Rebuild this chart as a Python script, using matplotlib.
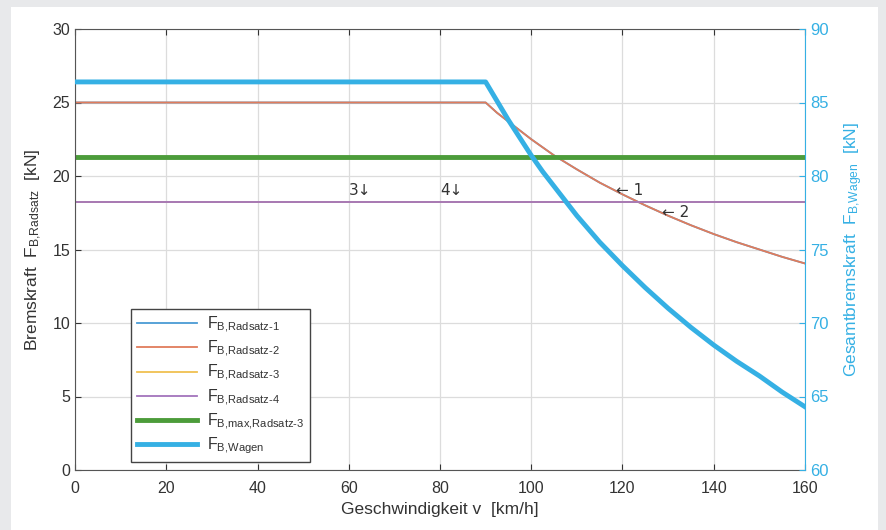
import matplotlib
matplotlib.use('Agg')
import matplotlib.pyplot as plt
from matplotlib.patches import Rectangle

plt.rcParams['font.family'] = ['Liberation Sans', 'DejaVu Sans']
plt.rcParams['mathtext.fontset'] = 'custom'
plt.rcParams['mathtext.rm'] = 'Liberation Sans'
plt.rcParams['mathtext.it'] = 'Liberation Sans'

# speeds [km/h] and braking forces [kN]
v = [0, 90, 92.5, 95, 97.5, 100, 102.5, 105, 110, 115, 120, 125, 130, 135, 140, 145, 150, 155, 160]
f_radsatz_1 = [25, 25, 24.3, 23.7, 23.1, 22.5, 21.95, 21.4, 20.45, 19.55, 18.75, 18.0, 17.3, 16.65,
               16.05, 15.5, 15.0, 14.5, 14.05]
f_radsatz_2 = [25, 25, 24.3, 23.7, 23.1, 22.5, 21.95, 21.4, 20.45, 19.55, 18.75, 18.0, 17.3, 16.65,
               16.05, 15.5, 15.0, 14.5, 14.05]
v_const = [0, 160]
f_radsatz_3 = [18.2, 18.2]
f_radsatz_4 = [18.2, 18.2]
f_max_radsatz_3 = [21.3, 21.3]
f_wagen = [86.4, 86.4, 85.1, 83.8, 82.6, 81.4, 80.3, 79.3, 77.3, 75.5, 73.9, 72.4, 71.0, 69.7,
           68.5, 67.4, 66.4, 65.3, 64.3]

dark = '#333333'
cyan = '#35b0e4'

fig = plt.figure(figsize=(8.86, 5.30), dpi=100)
fig.patch.set_facecolor('#e8e9eb')
fig.patches.append(Rectangle((11 / 886, 0), (878 - 11) / 886, 1 - 7 / 530,
                             transform=fig.transFigure, facecolor='white',
                             edgecolor='none', zorder=-5))

ax = fig.add_axes([75 / 886, 60 / 530, 730 / 886, 441 / 530])
ax.set_facecolor('none')
l1, = ax.plot(v, f_radsatz_1, color='#4a9bd4', lw=1.3, label=r'F$_{\mathrm{B{,}Radsatz\text{-}1}}$')
l2, = ax.plot(v, f_radsatz_2, color='#e07c5c', lw=1.3, label=r'F$_{\mathrm{B{,}Radsatz\text{-}2}}$')
l3, = ax.plot(v_const, f_radsatz_3, color='#f0c050', lw=1.3, label=r'F$_{\mathrm{B{,}Radsatz\text{-}3}}$')
l4, = ax.plot(v_const, f_radsatz_4, color='#a274bc', lw=1.3, label=r'F$_{\mathrm{B{,}Radsatz\text{-}4}}$')
l5, = ax.plot(v_const, f_max_radsatz_3, color='#4c9c3a', lw=3.5,
              label=r'F$_{\mathrm{B{,}max{,}Radsatz\text{-}3}}$')

ax.set_xlim(0, 160)
ax.set_ylim(0, 30)
ax.set_xticks(range(0, 161, 20))
ax.set_yticks(range(0, 31, 5))
ax.grid(True, color='#dcdcdc', lw=0.9)
ax.set_axisbelow(True)
ax.tick_params(direction='in', top=True, colors=dark, labelsize=11.5, length=4)
ax.tick_params(axis='x', pad=8)
for s in ['left', 'top', 'bottom']:
    ax.spines[s].set_color('#555555')
ax.spines['right'].set_visible(False)
ax.set_xlabel('Geschwindigkeit v  [km/h]', fontsize=12.5, color=dark, labelpad=4)
ax.set_ylabel(r'Bremskraft  F$_{\mathrm{B{,}Radsatz}}$  [kN]', fontsize=12.5, color=dark, labelpad=6)

arrow_font = ['DejaVu Sans']
ax.text(60, 19.0, '3\u2193', fontsize=11, color=dark, family=arrow_font, va='center')
ax.text(80, 19.0, '4\u2193', fontsize=11, color=dark, family=arrow_font, va='center')
ax.text(118.6, 19.0, '\u2190 1', fontsize=11, color=dark, family=arrow_font, va='center')
ax.text(128.7, 17.55, '\u2190 2', fontsize=11, color=dark, family=arrow_font, va='center')

ax2 = ax.twinx()
l6, = ax2.plot(v, f_wagen, color=cyan, lw=3.5, label=r'F$_{\mathrm{B{,}Wagen}}$')
ax2.set_ylim(60, 90)
ax2.set_yticks(range(60, 91, 5))
ax2.tick_params(direction='in', colors=cyan, labelsize=12, length=4)
ax2.spines['right'].set_color(cyan)
for s in ['left', 'top', 'bottom']:
    ax2.spines[s].set_visible(False)
ax2.set_ylabel(r'Gesamtbremskraft  F$_{\mathrm{B{,}Wagen}}$  [kN]', fontsize=12.5, color=cyan,
               labelpad=10)

leg = ax2.legend(handles=[l1, l2, l3, l4, l5, l6], loc='lower left',
                 bbox_to_anchor=(0.077, 0.018), borderaxespad=0, fontsize=11.5,
                 handlelength=3.8, labelspacing=0.25, fancybox=False, framealpha=1,
                 edgecolor='#444444', borderpad=0.35, handletextpad=0.6)
leg.get_frame().set_linewidth(1.0)
for t in leg.get_texts():
    t.set_color(dark)

fig.savefig('out.png', dpi=100, facecolor=fig.get_facecolor())
